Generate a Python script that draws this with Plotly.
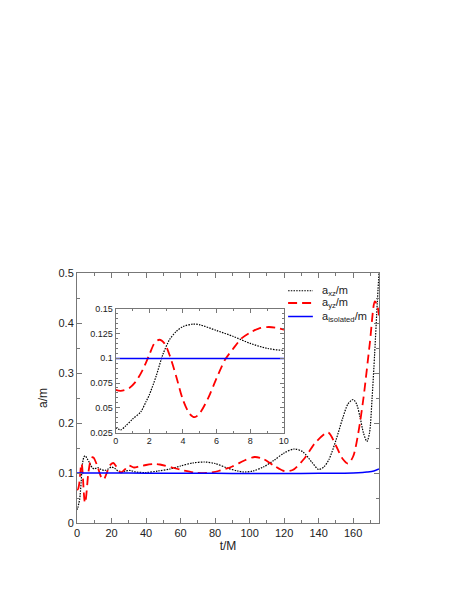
import plotly.graph_objects as go

# a_xz/m (black dotted)
t_xz = [0, 0.3, 0.6, 1, 1.5, 1.8, 2, 2.4, 2.8, 3.2, 3.6, 4, 4.6, 5, 6, 7, 8, 9, 10,
        12, 14, 16, 18, 20, 22, 25, 28, 31, 34, 40, 47, 54, 60, 67, 74, 80, 87, 93,
        97, 102, 108, 114, 120, 126, 131, 136, 140, 143, 146, 150, 154, 157, 160,
        162, 164, 166, 168, 169.5, 171, 172.5, 174, 175]
a_xz = [0.030, 0.0277, 0.0317, 0.0385, 0.046, 0.056, 0.063, 0.0816, 0.1035, 0.1187,
        0.127, 0.132, 0.1345, 0.1338, 0.128, 0.122, 0.115, 0.110, 0.108,
        0.111, 0.107, 0.105, 0.108, 0.112, 0.109, 0.101, 0.104, 0.105, 0.102, 0.101,
        0.104, 0.108, 0.114, 0.120, 0.122, 0.119, 0.110, 0.104, 0.102, 0.104, 0.112,
        0.125, 0.140, 0.148, 0.142, 0.122, 0.107, 0.112, 0.127, 0.165, 0.21, 0.238,
        0.247, 0.238, 0.212, 0.18, 0.163, 0.18, 0.25, 0.34, 0.44, 0.5]

# a_yz/m (red dashed)
t_yz = [0, 0.3, 0.8, 1.2, 1.6, 2, 2.3, 2.6, 2.9, 3.2, 3.6, 4, 4.4, 4.7, 5, 5.5, 6,
        6.5, 7, 7.5, 8, 8.5, 9, 9.5, 10, 12, 14, 15.5, 17, 19, 21, 23, 25.5, 28, 30,
        33, 36, 40, 45, 48, 55, 62, 68, 75, 82, 90, 97, 103, 108, 114, 120, 125, 132,
        138, 145.5, 150, 154, 157, 160, 163, 166, 169.7, 172.6, 174, 175]
a_yz = [0.068, 0.067, 0.0698, 0.0765, 0.088, 0.1035, 0.115, 0.1187, 0.115, 0.1035,
        0.0816, 0.058, 0.0438, 0.0405, 0.0445, 0.0597, 0.0799, 0.0984, 0.110, 0.1203,
        0.126, 0.130, 0.1315, 0.131, 0.1288, 0.112, 0.092, 0.087, 0.098, 0.115, 0.12,
        0.112, 0.101, 0.108, 0.115, 0.111, 0.113, 0.116, 0.118, 0.117, 0.111, 0.105,
        0.101, 0.100, 0.104, 0.113, 0.125, 0.132, 0.128, 0.115, 0.104, 0.106, 0.13,
        0.16, 0.181, 0.155, 0.128, 0.119, 0.133, 0.18, 0.25, 0.36, 0.443, 0.435, 0.415]

# a_isolated/m (blue solid)
t_iso = [0, 20, 40, 60, 80, 100, 120, 140, 155, 163, 168, 172, 175]
a_iso = [0.0998, 0.0998, 0.0997, 0.0995, 0.0993, 0.099, 0.099, 0.0993, 0.0997,
         0.1005, 0.102, 0.104, 0.108]

names = ["a<sub>xz</sub>/m", "a<sub>yz</sub>/m", "a<sub>isolated</sub>/m"]

fnt = "Liberation Sans, Arial, sans-serif"
styles = [dict(color="black", width=1.2, dash="1.5px,1.2px"),
          dict(color="red", width=1.8, dash="9px,5px"),
          dict(color="blue", width=1.5)]
series = [(t_xz, a_xz), (t_yz, a_yz), (t_iso, a_iso)]

fig = go.Figure()
for (t, a), nm, ln in zip(series, names, styles):
    fig.add_trace(go.Scatter(x=t, y=a, mode="lines", name=nm, showlegend=False,
                             line=dict(shape="spline", smoothing=0.8, **ln)))
# inset: same data, zoomed on 0 <= t <= 10
for (t, a), nm, ln in zip(series, names, styles):
    fig.add_trace(go.Scatter(x=t, y=a, mode="lines", name=nm, showlegend=False,
                             xaxis="x2", yaxis="y2", line=dict(shape="spline", smoothing=0.8, **ln)))

# compact legend (plotly's own legend rows are too tall)
leg_y = [0.929, 0.880, 0.826]
for nm, ln, yy in zip(names, styles, leg_y):
    fig.add_shape(type="line", xref="paper", yref="paper", x0=0.699, x1=0.781, y0=yy, y1=yy, line=ln)
    fig.add_annotation(x=0.804, y=yy, xref="paper", yref="paper", text=nm, showarrow=False,
                       xanchor="left", yanchor="middle", font=dict(size=11, family=fnt, color="#222"))

ax = dict(showgrid=False, zeroline=False, showline=True, linecolor="#777", linewidth=1,
          mirror="allticks", ticks="inside", tickcolor="#777", ticklen=5,
          tickfont=dict(size=11, color="#222", family=fnt))

fig.update_layout(
    width=457, height=591,
    margin=dict(l=69, r=86, t=265, b=76),
    paper_bgcolor="white", plot_bgcolor="white",
    font=dict(family=fnt, color="#222"),
    showlegend=False,
    xaxis=dict(range=[0, 175], dtick=20, tick0=0,
               minor=dict(dtick=10, ticks="inside", ticklen=3, tickcolor="#777"),
               title=dict(text="t/M", font=dict(size=12), standoff=2), **ax),
    yaxis=dict(range=[0, 0.5], dtick=0.1, tick0=0,
               minor=dict(dtick=0.05, ticks="inside", ticklen=3, tickcolor="#777"),
               title=dict(text="a/m", font=dict(size=12), standoff=8), **ax),
    xaxis2=dict(domain=[0.128, 0.685], anchor="y2", range=[0, 10], dtick=2, tick0=0,
                minor=dict(dtick=1, ticks="inside", ticklen=2, tickcolor="#777"),
                **{**ax, "tickfont": dict(size=9, color="#222", family=fnt), "ticklen": 4}),
    yaxis2=dict(domain=[0.362, 0.857], anchor="x2", range=[0.025, 0.15], dtick=0.025,
                tick0=0.025, tickformat="~g",
                minor=dict(dtick=0.005, ticks="inside", ticklen=2, tickcolor="#777"),
                **{**ax, "tickfont": dict(size=9, color="#222", family=fnt), "ticklen": 4}),
)

fig.write_html("out.html")
